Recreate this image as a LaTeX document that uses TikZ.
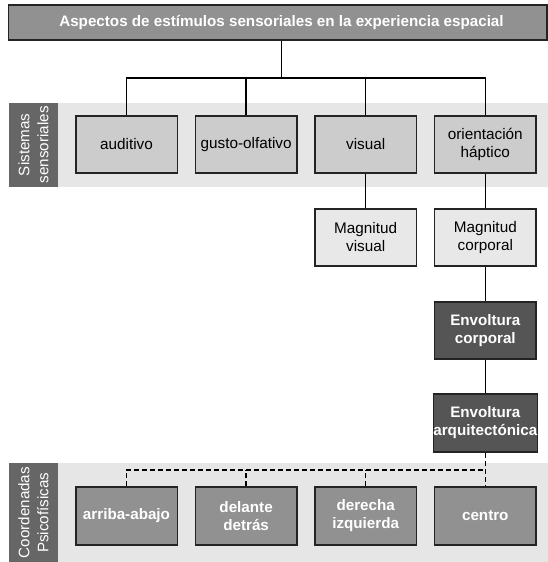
\documentclass[tikz,border=0pt]{standalone}
\usepackage{fontspec}
\setmainfont{Liberation Sans}
\definecolor{edge}{RGB}{35,35,35}
\definecolor{bandgray}{RGB}{230,230,230}
\definecolor{sidegray}{RGB}{102,102,102}
\definecolor{midgray}{RGB}{145,145,145}
\definecolor{sensegray}{RGB}{204,204,204}
\definecolor{lightbox}{RGB}{232,232,232}
\definecolor{darkbox}{RGB}{85,85,85}
\begin{document}
\begin{tikzpicture}[x=1pt,y=-1pt,
  box/.style={draw=edge, line width=1.5pt, minimum width=101.5pt, minimum height=57pt,
    inner sep=0pt, align=center, font=\fontsize{15.3}{18}\selectfont},
  sense/.style={box, fill=sensegray},
  magbox/.style={box, fill=lightbox},
  envbox/.style={box, fill=darkbox, text=white, font=\fontsize{15.2}{18}\selectfont\bfseries},
  coordbox/.style={box, minimum height=58pt, fill=midgray, text=white,
    font=\fontsize{15.2}{18}\selectfont\bfseries},
  sidelabel/.style={fill=sidegray, text=white, rotate=90, inner sep=0pt, align=center,
    font=\fontsize{15.2}{19}\selectfont},
  conn/.style={draw=black, line width=1.3pt},
  dconn/.style={draw=black, line width=1.4pt, dash pattern=on 5pt off 3pt}
]
\useasboundingbox (0,0) rectangle (548,562);

% background bands
\fill[bandgray] (8.7,102.5) rectangle (548,187);
\fill[bandgray] (8.7,463.3) rectangle (548,562);
\node[sidelabel, minimum width=84.5pt, minimum height=49.6pt] (lsens) at (33.5,144.75) {Sistemas\\sensoriales};
\node[sidelabel, minimum width=98.7pt, minimum height=49.6pt] (lcoord) at (33.5,512.65) {Coordenadas\\Psicofísicas};

% title bar (text centred over the trunk line)
\node[draw=edge, line width=1.5pt, fill=midgray, text=white, minimum width=538.3pt,
  minimum height=35pt, inner sep=0pt, font=\fontsize{15.2}{18}\selectfont\bfseries]
  (title) at (277.85,22.5) {\hspace*{7.3pt}Aspectos de estímulos sensoriales en la experiencia espacial};

% sensory systems
\node[sense] (aud) at (126.5,144.5) {auditivo};
\node[sense] (gus) at (246.1,144.5) {gusto-olfativo};
\node[sense] (vis) at (365.7,144.5) {visual};
\node[sense] (ori) at (485.3,144.5) {orientación\\háptico};

% magnitudes and envelopes
\node[magbox] (magv) at (365.7,237.5) {Magnitud\\visual};
\node[magbox] (magc) at (485.3,237.5) {Magnitud\\corporal};
\node[envbox] (envc) at (485.3,330.5) {Envoltura\\corporal};
\node[envbox, minimum height=58pt] (arq) at (485.3,423) {Envoltura\\arquitectónica};

% psychophysical coordinates
\node[coordbox] (c1) at (126.5,516) {arriba-abajo};
\node[coordbox] (c2) at (246.1,516) {delante\\detrás};
\node[coordbox] (c3) at (365.7,516) {derecha\\izquierda};
\node[coordbox] (cen) at (485.3,516) {centro};

% solid tree
\coordinate (bus) at (281.5,78);
\draw[conn] (title.south -| bus) -- (bus);
\draw[conn] (aud.north) |- (bus) -| (ori.north);
\draw[conn] (gus.north) -- (gus.north |- bus);
\draw[conn] (vis.north) -- (vis.north |- bus);
\draw[conn] (vis.south) -- (magv.north);
\draw[conn] (ori.south) -- (magc.north);
\draw[conn] (magc.south) -- (envc.north);
\draw[conn] (envc.south) -- (arq.north);

% dashed links to the coordinates
\coordinate (dbus) at (0,470);
\draw[dconn] (arq.south) -- (cen.north);
\draw[dconn] (c1.north) |- (cen.north |- dbus);
\draw[dconn] (c2.north) -- (c2.north |- dbus);
\draw[dconn] (c3.north) -- (c3.north |- dbus);
\end{tikzpicture}
\end{document}
